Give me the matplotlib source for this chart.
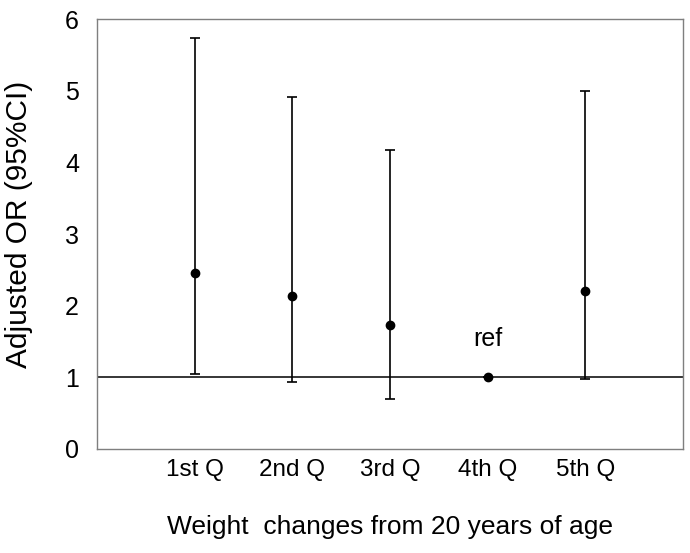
import matplotlib
matplotlib.use("Agg")
import matplotlib.pyplot as plt

categories = ["1st Q", "2nd Q", "3rd Q", "4th Q", "5th Q"]
odds_ratio = [2.45, 2.13, 1.73, 1.0, 2.20]
ci_lower = [1.04, 0.93, 0.70, 1.0, 0.98]
ci_upper = [5.74, 4.91, 4.17, 1.0, 4.99]
ref_label = "ref"
y_ticks = [0, 1, 2, 3, 4, 5, 6]

plt.rcParams['font.family'] = ['Liberation Sans', 'DejaVu Sans']

fig = plt.figure(figsize=(6.9, 5.53), dpi=100)
ax = fig.add_axes([97/690, 1 - 449/553, (683-97)/690, (449-19)/553])

xs = list(range(1, len(categories) + 1))
yerr_low = [o - l for o, l in zip(odds_ratio, ci_lower)]
yerr_high = [u - o for o, u in zip(odds_ratio, ci_upper)]
ax.axhline(1.0, color="black", lw=1.1, zorder=1)
ax.errorbar(xs, odds_ratio, yerr=[yerr_low, yerr_high], fmt="o", color="black",
            ms=6, elinewidth=1.2, capsize=3.5, capthick=1.2, zorder=3)
ax.text(xs[3], 1.54, ref_label, ha="center", va="center", fontsize=18)

ax.set_xlim(0, 6)
ax.set_ylim(0, 6)
ax.set_xticks(xs)
ax.set_xticklabels(categories, fontsize=17.5)
ax.set_yticks(y_ticks)
ax.set_yticklabels([str(t) for t in y_ticks], fontsize=18)
ax.tick_params(axis="both", length=0)
ax.tick_params(axis="y", pad=13)
ax.tick_params(axis="x", pad=7)
for s in ax.spines.values():
    s.set_color("#7f7f7f")
    s.set_linewidth(1.0)

ax.set_ylabel("Adjusted OR (95%CI)", fontsize=21.5)
ax.yaxis.set_label_coords(-0.110, 0.523)
ax.set_xlabel("Weight  changes from 20 years of age", fontsize=19, labelpad=25)

fig.savefig("out.png", dpi=100)
